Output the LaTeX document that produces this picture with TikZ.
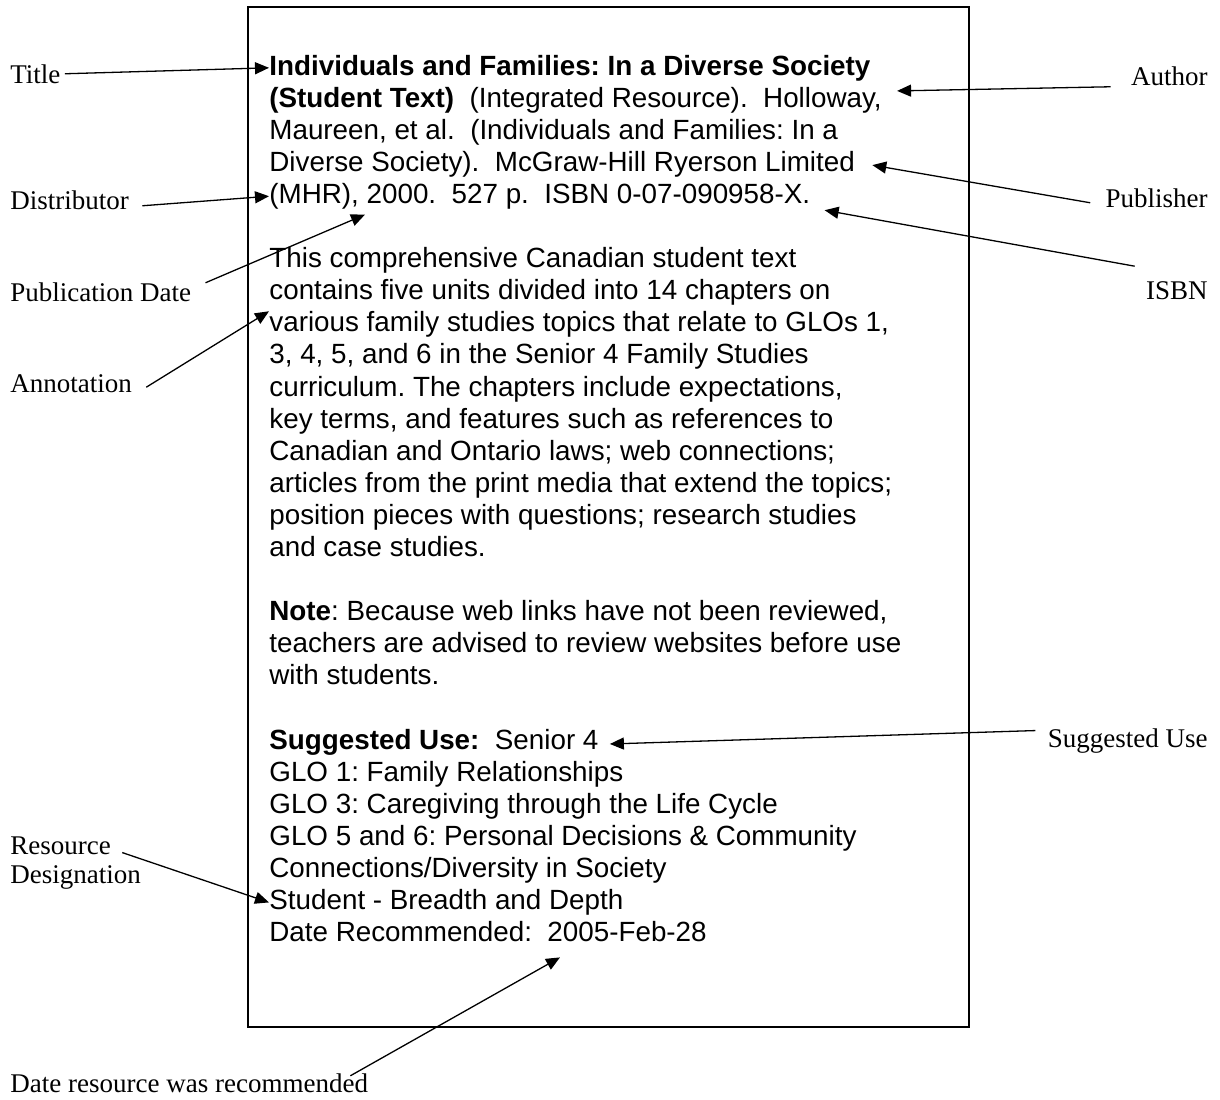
\documentclass[tikz,border=0pt]{standalone}
\usepackage{fontspec}
\setmainfont{Liberation Serif}
\newfontfamily\bodyfont{Liberation Sans}
\usetikzlibrary{arrows.meta}
\frenchspacing
\tikzset{
  >={Triangle[length=7pt,width=6pt]},
  tag/.style={font=\fontsize{13.5pt}{14.5pt}\selectfont, inner sep=2pt},
  entry/.style={font=\bodyfont\fontsize{13.9pt}{16pt}\selectfont, inner sep=0pt, anchor=base west},
  pointer/.style={->, line width=0.65pt},
}

\begin{document}
\begin{tikzpicture}[x=0.5pt,y=-0.5pt]

  \newcommand\LH{32.1}
  \newcommand\XL{269}

  \useasboundingbox (0,0) rectangle (1220,1099);

  \draw[line width=1pt] (248,7) rectangle (969,1027);

  %% citation
  \node[entry] (l0) at (\XL, 75+0*\LH) {\textbf{Individuals and Families: In a Diverse Society}};
  \node[entry] (l1) at (\XL, 75+1*\LH) {\textbf{(Student Text)}\ \ (Integrated Resource).\ \ Holloway,};
  \node[entry] (l2) at (\XL, 75+2*\LH) {Maureen, et al.\ \ (Individuals and Families: In a};
  \node[entry] (l3) at (\XL, 75+3*\LH) {Diverse Society).\ \ McGraw-Hill Ryerson Limited};
  \node[entry] (l4) at (\XL, 75+4*\LH) {(MHR), 2000.\ \ 527 p.\ \ ISBN 0-07-090958-X.};
  %% annotation
  \node[entry] (l6) at (\XL, 75+6*\LH) {This comprehensive Canadian student text};
  \node[entry] (l7) at (\XL, 75+7*\LH) {contains five units divided into 14 chapters on};
  \node[entry] (l8) at (\XL, 75+8*\LH) {various family studies topics that relate to GLOs 1,};
  \node[entry] (l9) at (\XL, 75+9*\LH) {3, 4, 5, and 6 in the Senior 4 Family Studies};
  \node[entry] (l10) at (\XL, 75+10*\LH) {curriculum. The chapters include expectations,};
  \node[entry] (l11) at (\XL, 75+11*\LH) {key terms, and features such as references to};
  \node[entry] (l12) at (\XL, 75+12*\LH) {Canadian and Ontario laws; web connections;};
  \node[entry] (l13) at (\XL, 75+13*\LH) {articles from the print media that extend the topics;};
  \node[entry] (l14) at (\XL, 75+14*\LH) {position pieces with questions; research studies};
  \node[entry] (l15) at (\XL, 75+15*\LH) {and case studies.};
  \node[entry] (l17) at (\XL, 75+17*\LH) {\textbf{Note}: Because web links have not been reviewed,};
  \node[entry] (l18) at (\XL, 75+18*\LH) {teachers are advised to review websites before use};
  \node[entry] (l19) at (\XL, 75+19*\LH) {with students.};
  %% use
  \node[entry] (l21) at (\XL, 75+21*\LH) {\textbf{Suggested Use:}\ \ Senior 4};
  \node[entry] (l22) at (\XL, 75+22*\LH) {GLO 1: Family Relationships};
  \node[entry] (l23) at (\XL, 75+23*\LH) {GLO 3: Caregiving through the Life Cycle};
  \node[entry] (l24) at (\XL, 75+24*\LH) {GLO 5 and 6: Personal Decisions \& Community};
  \node[entry] (l25) at (\XL, 75+25*\LH) {Connections/Diversity in Society};
  \node[entry] (l26) at (\XL, 75+26*\LH) {Student - Breadth and Depth};
  \node[entry] (l27) at (\XL, 75+27*\LH) {Date Recommended:\ \ 2005-Feb-28};

  %% labels
  \node[tag, anchor=base west] (title) at (6,83) {Title};
  \node[tag, anchor=base west] (distributor) at (6,209) {Distributor};
  \node[tag, anchor=base west] (pubdate) at (6,301) {Publication Date};
  \node[tag, anchor=base west] (annot) at (6,392) {Annotation};
  \node[tag, anchor=base west, align=left] (resdesig) at (6,883) {Resource\\Designation};
  \node[tag, anchor=base west] (daterec) at (6,1092) {Date resource was recommended};
  \node[tag, anchor=base east] (author) at (1212,85) {Author};
  \node[tag, anchor=base east] (publisher) at (1212,207) {Publisher};
  \node[tag, anchor=base east] (isbn) at (1212,299) {ISBN};
  \node[tag, anchor=base east] (suggested) at (1212,747) {Suggested Use};

  \draw[pointer] (title.east) -- (l0.west); %% Title->l0
  \draw[pointer] ([shift={(9,6)}]distributor.east) -- (l4.west); %% Distributor->l4
  \draw[pointer] ([shift={(10,-9)}]pubdate.east) -- ([shift={(96,5)}]l4.south west); %% Date->2000
  \draw[pointer] ([shift={(10,4)}]annot.east) -- (l8.north west); %% Annotation->l8
  \draw[pointer] ([shift={(-23,-10)}]resdesig.east) -- (l26.west); %% Designation->l26
  \draw[pointer] ([shift={(-22,-7)}]daterec.east) -- ([shift={(291,15)}]l27.south west); %% recommended->l27

  \draw[pointer] ([shift={(-16,11)}]author.west) -- ([shift={(15,-9)}]l1.east); %% Author->l1
  \draw[pointer] ([shift={(-11,5)}]publisher.west) -- ([shift={(17,1)}]l3.east); %% Publisher->l3
  \draw[pointer] ([shift={(-7,-24)}]isbn.west) -- ([shift={(14,14)}]l4.east); %% ISBN->l4
  \draw[pointer] ([shift={(-8,-10)}]suggested.west) -- ([shift={(11,2)}]l21.east); %% Use->l21
\end{tikzpicture}
\end{document}
